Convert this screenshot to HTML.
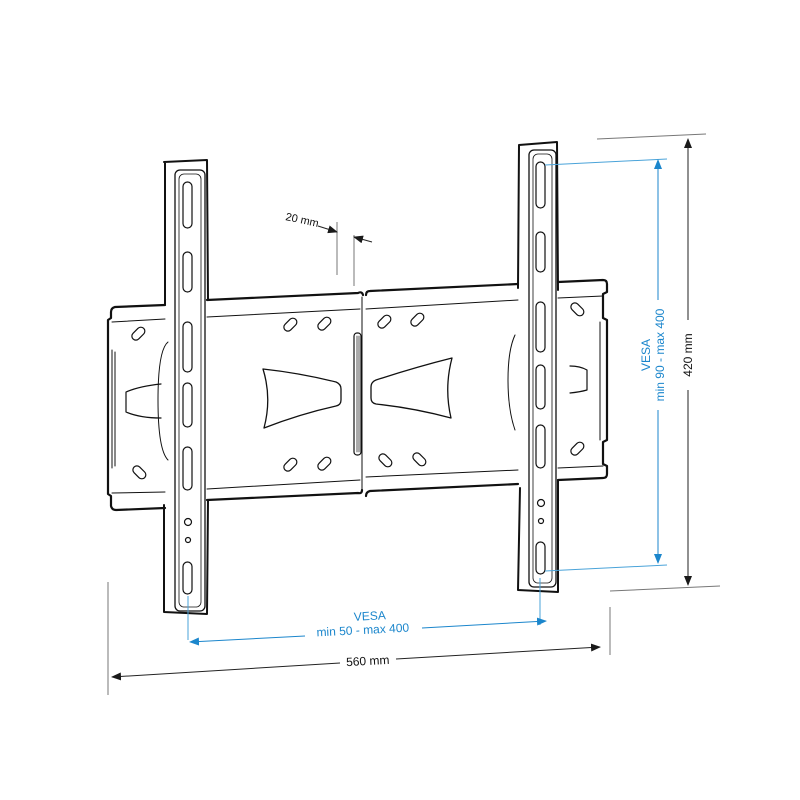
<!DOCTYPE html>
<html><head><meta charset="utf-8"><style>
html,body{margin:0;padding:0;background:#fff;}
svg{display:block;}
text{font-family:"Liberation Sans",sans-serif;}
</style></head><body>
<svg width="800" height="800" viewBox="0 0 800 800" xmlns="http://www.w3.org/2000/svg">
<defs>
<marker id="ab" markerWidth="10" markerHeight="8" refX="9" refY="4" orient="auto" markerUnits="userSpaceOnUse"><path d="M0,0 L10,4 L0,8 z" fill="#1a1a1a"/></marker>
<marker id="ablue" markerWidth="10" markerHeight="8" refX="9" refY="4" orient="auto" markerUnits="userSpaceOnUse"><path d="M0,0 L10,4 L0,8 z" fill="#1b86cc"/></marker>
</defs>
<rect width="800" height="800" fill="#fff"/>

<g fill="none" stroke="#111" stroke-linejoin="round" stroke-linecap="round">
<path d="M164,162 L207,160 L208,300 M165,162 L165,305 M164,505 L164,612 L207,614 L208,500" stroke-width="2"/>
<path d="M519,145 L557,142 L558,290 M519,145 L518,288 M520,488 L518,590 L558,592 L558,480" stroke-width="2"/>

<path d="M165,305 L115,307 Q111,308 111,312 L111,318 L108,320 L108,494 L111,496 L111,506 Q112,510 116,510 L165,508 M207,500 L358,493 Q362,494 362,490 M207,300 L358,293 Q362,291 363,295" stroke-width="2.2"/>
<path d="M112,322 L165,319 M207,317 L360,309 M112,493 L165,492 M207,489 L360,480" stroke-width="1"/>
<path d="M366,295 Q366,291 370,291 L518,284 M558,282 L603,280 Q607,280 607,284 L607,292 L603,294 L603,318 L607,320 L607,440 L603,442 L603,464 L607,466 L607,474 Q607,478 603,478 L558,480 M518,484 L370,491 Q366,492 366,496" stroke-width="2.2"/>
<path d="M366,309 L518,300 M558,298 L603,296 M366,477 L518,470 M558,468 L603,466" stroke-width="1"/>
<path d="M600,322 L600,440" stroke-width="1"/>
<path d="M112,350 L112,468 M115,352 L115,466" stroke-width="1"/>
<path d="M362,297 L362,490" stroke-width="1"/>
<rect x="354" y="333" width="7" height="122" rx="3" stroke-width="1.2"/>
<path d="M357,336 L357,452 M359,336 L359,452" stroke-width="0.7"/>

<path d="M263,369 Q300,373 336,382 Q341,384 341,389 L341,400 Q341,405 336,406 Q300,414 264,428 Q272,398 263,369 Z" stroke-width="1.3"/>
<path d="M452,358 Q416,367 376,380 Q371,382 371,387 L371,398 Q371,403 376,404 Q414,408 451,418 Q444,388 452,358 Z" stroke-width="1.3"/>
<path d="M161,384 Q140,386 126,392 L126,412 Q140,418 161,418" stroke-width="1.2"/>
<path d="M570,366 Q580,366 587,370 L587,390 Q580,392 570,393" stroke-width="1.2"/>
<path d="M168,342 Q158,350 158,400 Q158,450 168,460" stroke-width="1"/>
<path d="M515,335 Q508,350 508,380 Q508,410 515,430" stroke-width="1"/>

<g stroke-width="1.2">
<rect x="283" y="321" width="15" height="8" rx="4" transform="rotate(-45 290 325)"/>
<rect x="317" y="320" width="15" height="8" rx="4" transform="rotate(-45 324 324)"/>
<rect x="283" y="461" width="15" height="8" rx="4" transform="rotate(-45 290 465)"/>
<rect x="317" y="460" width="15" height="8" rx="4" transform="rotate(-45 324 464)"/>
<rect x="377" y="318" width="15" height="8" rx="4" transform="rotate(-45 384 322)"/>
<rect x="410" y="316" width="15" height="8" rx="4" transform="rotate(-45 417 320)"/>
<rect x="378" y="456" width="15" height="8" rx="4" transform="rotate(45 385 460)"/>
<rect x="412" y="455" width="15" height="8" rx="4" transform="rotate(45 419 459)"/>
<rect x="131" y="330" width="15" height="8" rx="4" transform="rotate(-45 138 334)"/>
<rect x="132" y="468" width="15" height="8" rx="4" transform="rotate(45 139 472)"/>
<rect x="570" y="305" width="15" height="8" rx="4" transform="rotate(45 577 309)"/>
<rect x="570" y="445" width="15" height="8" rx="4" transform="rotate(-45 577 449)"/>
</g>
</g>

<g fill="#fff" stroke="#111" stroke-linejoin="round">
<rect x="175" y="170" width="30" height="441" rx="5" stroke-width="1.3"/>
<rect x="179" y="174" width="22" height="433" rx="5" fill="none" stroke-width="0.8"/>
<g fill="none" stroke-width="1.2">
<rect x="183" y="182" width="9" height="46" rx="4.5"/>
<rect x="183" y="252" width="9" height="40" rx="4.5"/>
<rect x="183" y="322" width="9" height="50" rx="4.5"/>
<rect x="183" y="383" width="9" height="44" rx="4.5"/>
<rect x="183" y="447" width="9" height="43" rx="4.5"/>
<rect x="183" y="562" width="9" height="32" rx="4.5"/>
<circle cx="188" cy="522" r="3.5"/>
<circle cx="188" cy="540" r="2.5"/>
</g>
</g>
<g fill="#fff" stroke="#111" stroke-linejoin="round">
<rect x="529" y="150" width="27" height="437" rx="5" stroke-width="1.3"/>
<rect x="533" y="154" width="19" height="429" rx="5" fill="none" stroke-width="0.8"/>
<g fill="none" stroke-width="1.2">
<rect x="536" y="162" width="9" height="46" rx="4.5"/>
<rect x="536" y="232" width="9" height="40" rx="4.5"/>
<rect x="536" y="302" width="9" height="50" rx="4.5"/>
<rect x="536" y="365" width="9" height="44" rx="4.5"/>
<rect x="536" y="425" width="9" height="43" rx="4.5"/>
<rect x="536" y="542" width="9" height="32" rx="4.5"/>
<circle cx="541" cy="503" r="3.5"/>
<circle cx="541" cy="521" r="2.5"/>
</g>
</g>

<g stroke="#777" stroke-width="1" fill="none">
<line x1="337" y1="222" x2="337" y2="275"/>
<line x1="354" y1="235" x2="354" y2="286"/>
</g>
<line x1="318" y1="226" x2="337" y2="232" stroke="#222" stroke-width="1" marker-end="url(#ab)"/>
<line x1="372" y1="242" x2="354" y2="237" stroke="#222" stroke-width="1" marker-end="url(#ab)"/>
<text x="285" y="220" font-size="11" fill="#111" transform="rotate(12 285 220)">20 mm</text>

<g stroke="#777" stroke-width="1">
<line x1="597" y1="139" x2="706" y2="134"/>
<line x1="610" y1="591" x2="720" y2="586"/>
<line x1="108" y1="582" x2="108" y2="695"/>
<line x1="610" y1="607" x2="610" y2="655"/>
</g>
<line x1="688" y1="320" x2="688" y2="139" stroke="#222" stroke-width="1" marker-end="url(#ab)"/>
<line x1="688" y1="390" x2="688" y2="585" stroke="#222" stroke-width="1" marker-end="url(#ab)"/>
<text x="692" y="355" font-size="12" fill="#111" text-anchor="middle" transform="rotate(-90 692 355)">420 mm</text>

<g stroke="#4aa3d9" stroke-width="1">
<line x1="545" y1="165" x2="667" y2="159"/>
<line x1="545" y1="571" x2="667" y2="565"/>
<line x1="188" y1="596" x2="188" y2="640"/>
<line x1="540" y1="578" x2="540" y2="625"/>
</g>
<line x1="658" y1="300" x2="658" y2="160" stroke="#1b86cc" stroke-width="1" marker-end="url(#ablue)"/>
<line x1="658" y1="410" x2="658" y2="563" stroke="#1b86cc" stroke-width="1" marker-end="url(#ablue)"/>
<text x="650" y="355" font-size="12" fill="#1b86cc" text-anchor="middle" transform="rotate(-90 650 355)">VESA</text>
<text x="664" y="355" font-size="12" fill="#1b86cc" text-anchor="middle" transform="rotate(-90 664 355)">min 90 - max 400</text>

<line x1="305" y1="636" x2="190" y2="642" stroke="#1b86cc" stroke-width="1" marker-end="url(#ablue)"/>
<line x1="422" y1="628" x2="546" y2="621" stroke="#1b86cc" stroke-width="1" marker-end="url(#ablue)"/>
<text x="370" y="620" font-size="12" fill="#1b86cc" text-anchor="middle" transform="rotate(-3 370 620)">VESA</text>
<text x="363" y="634" font-size="12" fill="#1b86cc" text-anchor="middle" transform="rotate(-3 363 634)">min 50 - max 400</text>

<line x1="340" y1="663" x2="112" y2="677" stroke="#222" stroke-width="1" marker-end="url(#ab)"/>
<line x1="396" y1="659" x2="600" y2="647" stroke="#222" stroke-width="1" marker-end="url(#ab)"/>
<text x="368" y="665" font-size="12" fill="#111" text-anchor="middle" transform="rotate(-3 368 665)">560 mm</text>
</svg>
</body></html>
